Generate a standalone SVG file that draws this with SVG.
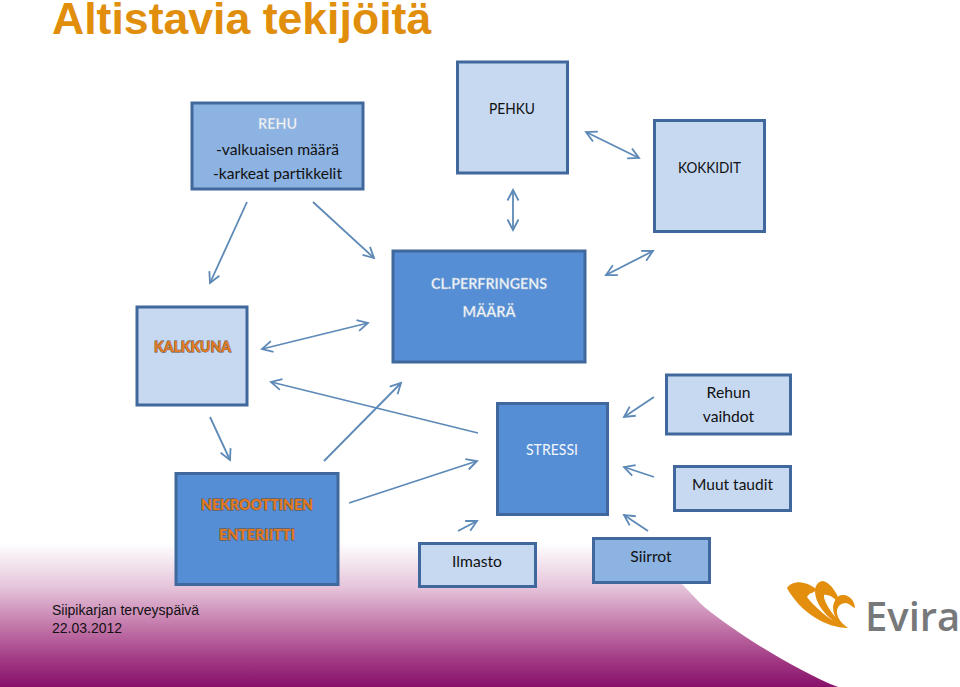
<svg xmlns="http://www.w3.org/2000/svg" width="960" height="687" viewBox="0 0 960 687">
<style>
text{font-family:Lato,"Open Sans",sans-serif;font-size:15.700px;fill:#111;text-anchor:middle}
.n{stroke:#41689c;stroke-width:3}
.l{fill:#c6d9f1}.m{fill:#8db3e2}.d{fill:#558ed5}
.w{fill:#f4f8fc;font-weight:700;stroke:#9db5d0;stroke-width:.4}
.s{fill:#f2f7fc}
.o{fill:#e27a22;font-weight:900;stroke:#5d4a3c;stroke-width:.9;paint-order:stroke}
#connectors line{stroke:#5d89b7;stroke-width:1.8;fill:none}
.a{marker-end:url(#h)}.b{marker-end:url(#h);marker-start:url(#h)}
</style>
<defs>
<marker id="h" viewBox="-12 -7 14 14" markerUnits="userSpaceOnUse" markerWidth="14" markerHeight="14" refX="0" refY="0" orient="auto-start-reverse"><path d="M-10.500-5.500L0 0L-10.500 5.500" fill="none" stroke="#5d89b7" stroke-width="1.8"/></marker>
<linearGradient id="g" x1="0" y1="0" x2="0" y2="1"><stop offset="0" stop-color="#fff"/><stop offset=".3" stop-color="#e6c6dc"/><stop offset=".55" stop-color="#c67fae"/><stop offset=".8" stop-color="#a33c86"/><stop offset="1" stop-color="#88106a"/></linearGradient>
</defs>
<rect width="960" height="687" fill="#fff"/>
<path d="M0 543H640L683 585L700 603C720 622 790 668 838 687H0Z" fill="url(#g)"/>
<text x="52" y="34" style="font-family:'Liberation Sans',Arial,sans-serif;font-size:44.600px;font-weight:700;fill:#e08e0b;text-anchor:start">Altistavia tekijöitä</text>
<g id="connectors">
<line class="a" x1="247" y1="202" x2="210" y2="283"/>
<line class="a" x1="313" y1="202" x2="374" y2="258"/>
<line class="b" x1="513" y1="190" x2="513" y2="230"/>
<line class="b" x1="586" y1="132" x2="639" y2="158"/>
<line class="b" x1="606" y1="275" x2="653" y2="251"/>
<line class="b" x1="262" y1="349" x2="368" y2="323"/>
<line class="a" x1="478" y1="433" x2="271" y2="382"/>
<line class="a" x1="324" y1="461" x2="401" y2="383"/>
<line class="a" x1="210" y1="417" x2="230" y2="460"/>
<line class="a" x1="349" y1="503" x2="477" y2="461"/>
<line class="a" x1="458" y1="531" x2="477" y2="521"/>
<line class="a" x1="654" y1="397" x2="624" y2="417"/>
<line class="a" x1="654" y1="477" x2="624" y2="467"/>
<line class="a" x1="648" y1="531" x2="624" y2="515"/>
</g>
<g id="rehu"><rect class="n m" x="192" y="103" width="171" height="86"/><text class="w" x="277.500" y="129" textLength="39" lengthAdjust="spacingAndGlyphs">REHU</text><text x="277.500" y="155" textLength="123" lengthAdjust="spacingAndGlyphs">-valkuaisen määrä</text><text x="277.500" y="179" textLength="129" lengthAdjust="spacingAndGlyphs">-karkeat partikkelit</text></g>
<g id="pehku"><rect class="n l" x="457.500" y="62" width="110" height="111"/><text x="512" y="114" textLength="46" lengthAdjust="spacingAndGlyphs">PEHKU</text></g>
<g id="kokkidit"><rect class="n l" x="654.500" y="120.500" width="110" height="111"/><text x="709.500" y="173" textLength="63" lengthAdjust="spacingAndGlyphs">KOKKIDIT</text></g>
<g id="perfringens"><rect class="n d" x="393" y="251" width="192" height="111"/><text class="w" x="489" y="289" textLength="116" lengthAdjust="spacingAndGlyphs">CL.PERFRINGENS</text><text class="w" x="489" y="317" textLength="53" lengthAdjust="spacingAndGlyphs">MÄÄRÄ</text></g>
<g id="kalkkuna"><rect class="n l" x="137" y="307" width="110" height="98"/><text class="o" x="192.500" y="352" textLength="77" lengthAdjust="spacingAndGlyphs">KALKKUNA</text></g>
<g id="nekrootinen"><rect class="n d" x="176" y="473.500" width="162" height="111"/><text class="o" x="257" y="510" textLength="112" lengthAdjust="spacingAndGlyphs">NEKROOTTINEN</text><text class="o" x="257" y="540" textLength="76" lengthAdjust="spacingAndGlyphs">ENTERIITTI</text></g>
<g id="stressi"><rect class="n d" x="497.500" y="403.500" width="110" height="111"/><text class="s" x="552" y="455" textLength="52" lengthAdjust="spacingAndGlyphs">STRESSI</text></g>
<g id="rehun-vaihdot"><rect class="n l" x="666.500" y="375" width="124" height="59"/><text x="728.500" y="398">Rehun</text><text x="728.500" y="422">vaihdot</text></g>
<g id="muut-taudit"><rect class="n l" x="674.500" y="466.500" width="116" height="44"/><text x="732.500" y="490" textLength="81" lengthAdjust="spacingAndGlyphs">Muut taudit</text></g>
<g id="ilmasto"><rect class="n l" x="419.500" y="543.500" width="116" height="43"/><text x="477" y="567">Ilmasto</text></g>
<g id="siirrot"><rect class="n m" x="593.500" y="538.500" width="116" height="44"/><text x="651" y="562">Siirrot</text></g>
<text x="52" y="615" style="font-family:'Liberation Sans',Arial,sans-serif;font-size:14px;text-anchor:start">Siipikarjan terveyspäivä</text>
<text x="52" y="633" style="font-family:'Liberation Sans',Arial,sans-serif;font-size:14px;text-anchor:start">22.03.2012</text>
<g id="logo">
<path d="M787 588C790 583 798 581 804 583C809 584 814 587 817 590L812 593C810 593 808 595 807 597C812 604 830 622 848 628C826 628 800 612 787 588Z" fill="#e38f0d"/>
<path d="M815 591C815 585 819 581 823 581C829 582 835 590 838 597L837 601C832 596 827 594 824 595C823 602 836 621 848 628C832 624 815 606 815 591Z" fill="#e38f0d"/>
<path d="M833 607C834 600 838 595 842 595C849 594 855 601 855 608C852 607 850 604 846 603C841 603 838 606 837 610C836 617 842 624 848 628C840 626 833 617 833 607Z" fill="#e38f0d"/>
<text x="865" y="631" style="font-family:'Open Sans',sans-serif;font-size:40px;font-weight:600;fill:#77787a;text-anchor:start">Evira</text>
</g>
</svg>
